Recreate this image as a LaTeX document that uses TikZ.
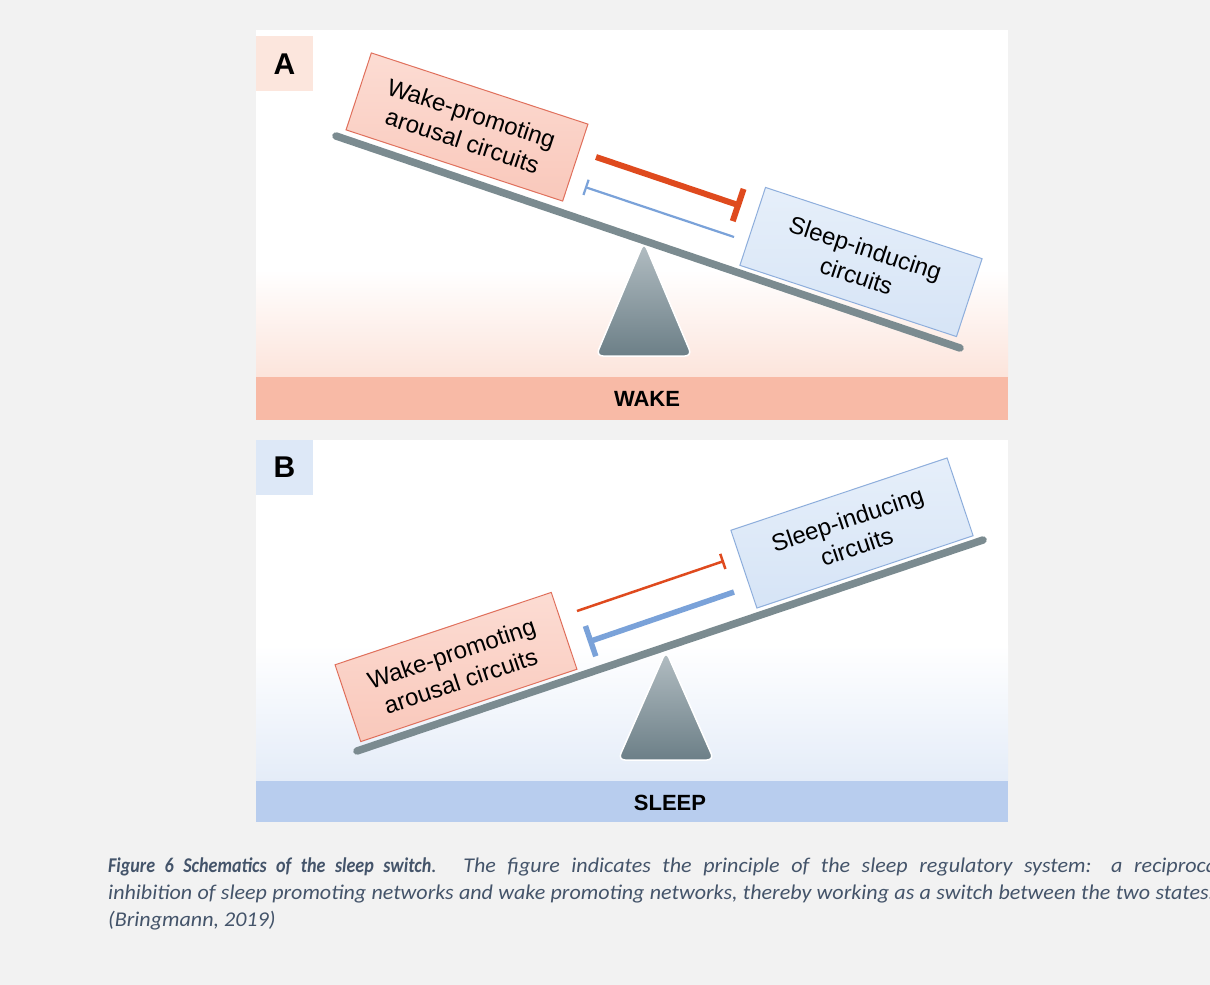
\documentclass[tikz,border=0pt]{standalone}
\usepackage{fontspec}
\setmainfont{Liberation Sans}
\newfontfamily\capfont[FakeStretch=1.05]{Carlito}
\newfontfamily\capbold[FakeStretch=0.86]{Carlito}
\usetikzlibrary{arrows.meta}
\definecolor{bg}{HTML}{F2F2F2}
\definecolor{pinkbg}{HTML}{FCE4DB}
\definecolor{bluebg}{HTML}{E4ECF8}
\definecolor{wakebar}{HTML}{F8BAA6}
\definecolor{sleepbar}{HTML}{B8CDEE}
\definecolor{labA}{HTML}{FCE6DD}
\definecolor{labB}{HTML}{DDE8F7}
\definecolor{beam}{HTML}{7B8B90}
\definecolor{triTop}{HTML}{B3BEC3}
\definecolor{triBot}{HTML}{6C7F87}
\definecolor{wfillT}{HTML}{FCDCD3}
\definecolor{wfillB}{HTML}{F9C8BB}
\definecolor{wdraw}{HTML}{E0705C}
\definecolor{sfillT}{HTML}{E6EFFA}
\definecolor{sfillB}{HTML}{D6E4F6}
\definecolor{sdraw}{HTML}{8EAEDC}
\definecolor{redarr}{HTML}{DF4A1E}
\definecolor{bluearr}{HTML}{7AA2D9}
\definecolor{captxt}{HTML}{44546A}
\tikzset{
  wakebox/.style={draw=wdraw, line width=1pt, top color=wfillT, bottom color=wfillB,
    minimum width=228pt, minimum height=81pt, inner sep=0pt, align=center,
    font=\fontsize{24}{29}\selectfont},
  sleepbox/.style={draw=sdraw, line width=1pt, top color=sfillT, bottom color=sfillB,
    minimum width=228pt, minimum height=82pt, inner sep=0pt, align=center,
    font=\fontsize{24}{29}\selectfont},
  beamline/.style={draw=beam, line width=7.5pt, line cap=round},
  fulcrum/.style={top color=triTop, bottom color=triBot, draw=white, line width=1.5pt, rounded corners=7pt},
  panlab/.style={font=\bfseries\fontsize{30}{30}\selectfont},
  barlab/.style={font=\bfseries\fontsize{22}{22}\selectfont},
  inhthick/.style={line width=6pt},
  inhthin/.style={line width=2.2pt},
  captext/.style={anchor=base west, inner sep=0pt, text=captxt, font=\capfont\itshape\fontsize{21}{27}\selectfont}
}
\begin{document}
\begin{tikzpicture}[x=1pt,y=-1pt]
\useasboundingbox (0,0) rectangle (1210,985);
\clip (0,0) rectangle (1210,985);
\fill[bg] (0,0) rectangle (1210,985);

% ---------- Panel A ----------
\fill[white] (256,30) rectangle (1008,377);
\shade[top color=white, bottom color=pinkbg] (256,270) rectangle (1008,377.5);
\fill[wakebar] (256,377) rectangle (1008,420);
\node[barlab] (wake) at (647,399) {WAKE};
\fill[labA] (256,36) rectangle (313,91);
\node[panlab] (A) at (284.5,64) {A};

\path[fulcrum] (644,242) -- (692,356) -- (596,356) -- cycle;
\coordinate (bA1) at (336,136);
\coordinate (bA2) at (960,348);
\draw[beamline] (bA1) -- (bA2);

\node[wakebox, rotate=-18.2] (wA) at (467,127) {Wake-promoting\\arousal circuits};
\node[sleepbox, rotate=-18.2] (sA) at (861,262) {Sleep-inducing\\circuits};

\coordinate (rA1) at (596,157);
\coordinate (rA2) at (741,206);
\draw[redarr, inhthick, -{Bar[width=34pt]}] (rA1) -- (rA2);
\coordinate (lA1) at (734,237);
\coordinate (lA2) at (585,187);
\draw[bluearr, inhthin, -{Bar[width=16pt]}] (lA1) -- (lA2);

% ---------- Panel B ----------
\fill[white] (256,440) rectangle (1008,781);
\shade[top color=white, bottom color=bluebg] (256,645) rectangle (1008,781.5);
\fill[sleepbar] (256,781) rectangle (1008,822);
\node[barlab] (sleep) at (670,803) {SLEEP};
\fill[labB] (256,440) rectangle (313,495);
\node[panlab] (B) at (284.5,467) {B};

\path[fulcrum] (666,651) -- (714,760) -- (618,760) -- cycle;
\coordinate (bB1) at (357,751);
\coordinate (bB2) at (983,540);
\draw[beamline] (bB1) -- (bB2);

\node[wakebox, rotate=18.5] (wB) at (456,667) {Wake-promoting\\arousal circuits};
\node[sleepbox, rotate=18.5] (sB) at (852,533) {Sleep-inducing\\circuits};

\coordinate (rB1) at (577,611);
\coordinate (rB2) at (724,561);
\draw[redarr, line width=2.5pt, -{Bar[width=16pt]}] (rB1) -- (rB2);
\coordinate (lB1) at (734,592);
\coordinate (lB2) at (588,642);
\draw[bluearr, line width=5.5pt, -{Bar[width=32pt]}] (lB1) -- (lB2);

% ---------- Caption ----------
\node[captext] (cap1) at (108,872) {\makebox[1114pt][s]{{\capbold\bfseries Figure 6 Schematics of the sleep switch}. The figure indicates the principle of the sleep regulatory system: a reciprocal}};
\node[captext] (cap2) at (108,899) {\makebox[1106pt][s]{inhibition of sleep promoting networks and wake promoting networks, thereby working as a switch between the two states.}};
\node[captext] (cap3) at (108,926) {(Bringmann, 2019)};
\end{tikzpicture}
\end{document}
